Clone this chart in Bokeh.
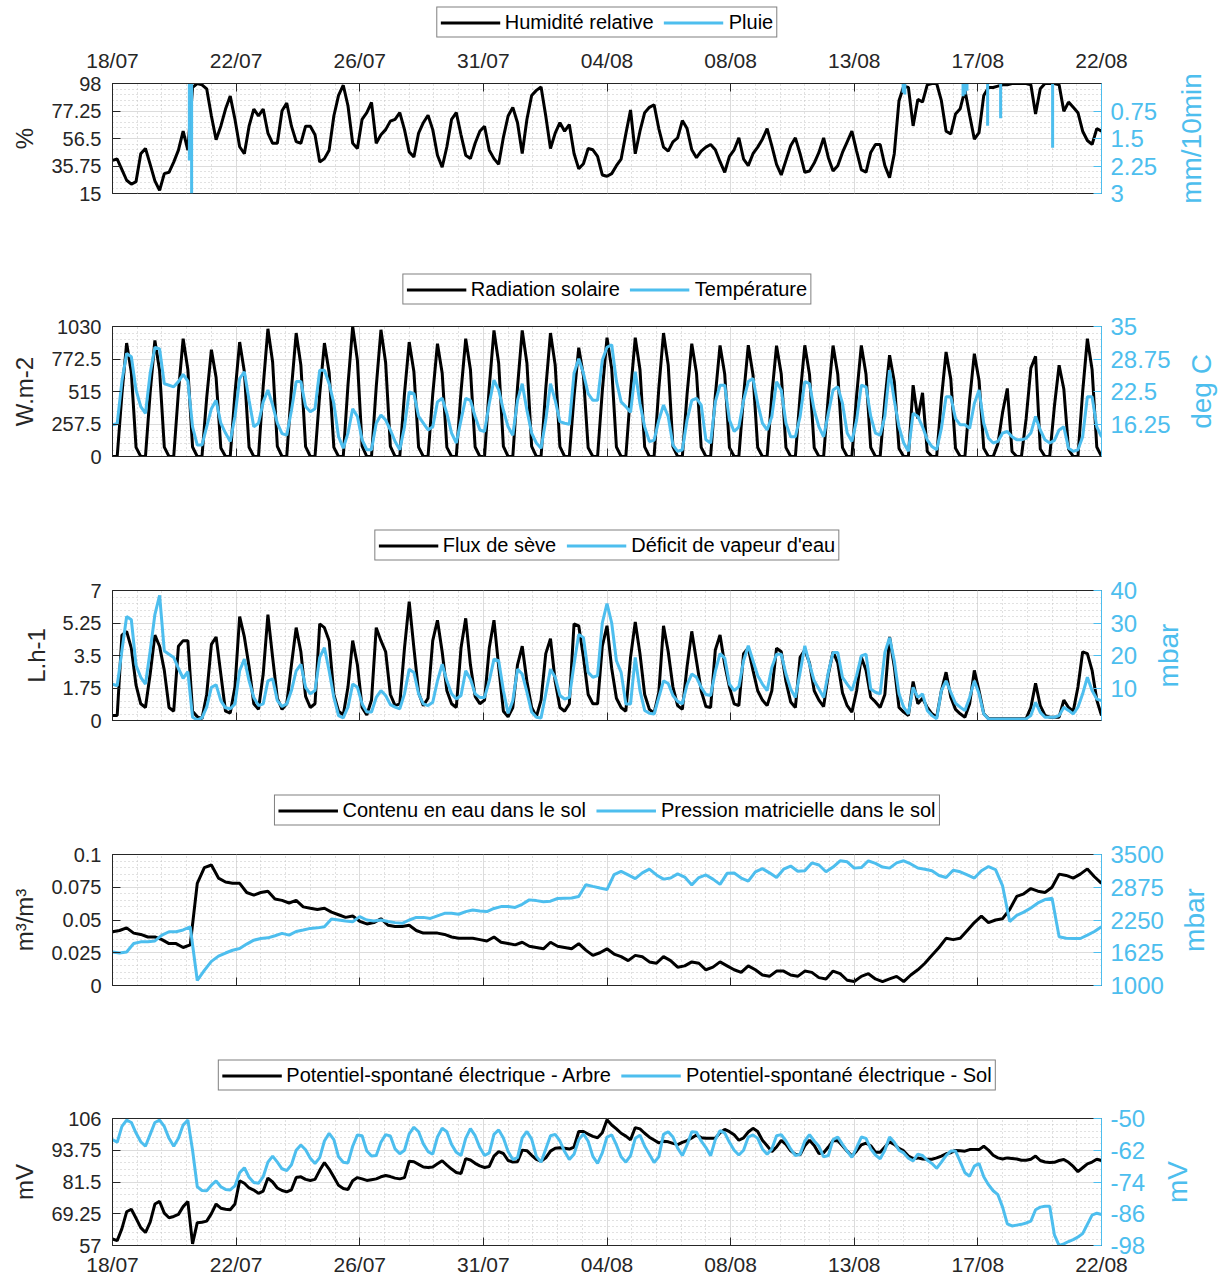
import math
import numpy as np
from bokeh.plotting import figure
from bokeh.models import Range1d, LinearAxis, FixedTicker, Legend, LegendItem
from bokeh.layouts import column, row
from bokeh.embed import file_html
from bokeh.resources import INLINE

FONT = "Liberation Sans"
BLUE = "#4DBEEE"
INK = "#262626"
W = 1227
FL, FR = 112, 1101  # frame left / right (px)

# ---------------- data ----------------
date_labels = ["18/07", "22/07", "26/07", "31/07", "04/08", "08/08", "13/08", "17/08", "22/08"]
n_days = 35

# relative humidity (%), 4-hourly (0,4,8,12,16,20 h) per day from 18/07
rh = [
    [40, 41, 33, 25, 22, 24], [45, 49, 37, 24.5, 17.3, 30], [31, 38.7, 47.7, 62, 47.7, 95],
    [98, 97, 94, 73.5, 55.5, 65.8], [78.7, 88.5, 71, 50.3, 45, 65.8], [78.7, 73.5, 78.7, 60.6, 52.9, 52.9],
    [77.4, 83.3, 65.8, 54.2, 52.9, 65.8], [65.8, 59.3, 38.7, 41.3, 47.7, 73.5], [89, 96.7, 81.2, 52.9, 49, 71],
    [76, 83.8, 52.9, 59.3, 63.2, 69.6], [71, 76, 63.2, 46.4, 42.6, 60.6], [68.4, 74, 63.2, 43.9, 34.8, 50.3],
    [71, 76, 59.3, 43.9, 41.3, 52.9], [62, 65.8, 47.7, 41.3, 37, 57.4], [73.5, 80, 68.4, 45.2, 71, 89],
    [92.8, 95.4, 73.5, 49, 60.6, 68.4], [62, 67, 45.2, 33.6, 37.4, 49], [48, 43, 29, 28, 30, 36],
    [41, 60, 78, 45, 62, 76], [80, 82, 64, 50, 47, 54], [57, 70, 64, 48, 42, 47],
    [50, 52, 48, 39, 31, 43], [48, 57, 41, 36, 45, 50], [56, 64, 51, 37, 29, 40],
    [51, 57, 45, 31, 32, 38], [46, 57, 42, 32, 36, 46], [54, 62, 47, 33, 31, 46],
    [52, 52, 36, 27, 45, 85], [96, 95, 66, 86, 84, 97], [98, 98, 85, 62, 60, 75],
    [79, 93, 74, 56, 61, 89], [95, 95, 96, 97, 97, 98], [98, 98, 98, 97, 75, 94],
    [98, 98, 98, 97, 77, 84], [80, 76, 62, 55, 52, 64],
]
rh_end = 62

# rain events (day since 18/07 00h, mm/10min)
rain_day = [2.72, 2.80, 27.98, 28.04, 30.10, 30.17, 30.24, 30.97, 31.43, 33.27]
rain_mm = [2.1, 3.0, 0.25, 0.30, 0.35, 0.30, 0.20, 1.15, 0.95, 1.75]

# solar radiation (W.m-2), 4-hourly
rad = [
    [0, 0, 494, 899, 665, 72], [0, 0, 506, 920, 681, 74], [0, 0, 513, 933, 690, 75],
    [0, 0, 465, 846, 626, 68], [0, 0, 499, 907, 671, 73], [0, 0, 557, 1012, 749, 81],
    [0, 0, 538, 978, 724, 78], [0, 0, 494, 899, 665, 72], [0, 0, 566, 1030, 762, 82],
    [0, 0, 552, 1004, 743, 80], [0, 0, 499, 907, 671, 73], [0, 0, 492, 894, 662, 72],
    [0, 0, 513, 933, 690, 75], [0, 0, 549, 999, 739, 80], [0, 0, 549, 999, 739, 80],
    [0, 0, 538, 978, 724, 78], [0, 0, 474, 862, 638, 69], [0, 0, 518, 941, 696, 75],
    [0, 0, 510, 941, 690, 76], [0, 0, 538, 978, 724, 78], [0, 0, 492, 894, 662, 72],
    [0, 0, 484, 880, 651, 70], [0, 0, 480, 882, 648, 71], [0, 0, 486, 878, 653, 70],
    [0, 0, 482, 881, 650, 69], [0, 0, 485, 879, 652, 70], [0, 0, 483, 880, 651, 71],
    [0, 0, 441, 802, 593, 64], [0, 0, 565, 300, 505, 40], [0, 0, 455, 828, 613, 66],
    [0, 0, 448, 815, 603, 65], [0, 0, 100, 350, 539, 40], [0, 0, 300, 700, 794, 60],
    [0, 0, 398, 723, 535, 58], [0, 0, 513, 933, 690, 75],
]
rad_end = 0

# air temperature (deg C), 4-hourly
temp = [
    [16.1, 16.3, 24.5, 29.8, 29.2, 22.8], [19.6, 18.3, 26.0, 31.0, 30.7, 24.0], [23.7, 23.4, 24.4, 25.8, 24.5, 15.7],
    [12.2, 12.2, 15.7, 19.2, 20.8, 16.4], [14.5, 12.9, 17.7, 25.0, 26.3, 20.8], [15.7, 16.4, 20.5, 22.8, 19.9, 16.4],
    [14.4, 14.1, 18.9, 24.4, 24.4, 19.6], [18.6, 19.2, 26.6, 26.6, 24.0, 20.2], [13.8, 11.6, 14.5, 19.2, 17.7, 13.2],
    [11.3, 11.3, 16.4, 18.0, 17.0, 15.1], [12.9, 11.3, 15.7, 22.4, 22.1, 17.7], [16.4, 15.1, 15.7, 20.5, 21.2, 18.3],
    [14.5, 12.6, 17.0, 21.2, 20.8, 17.7], [15.1, 14.8, 20.2, 24.7, 22.8, 18.9], [15.7, 14.1, 20.8, 24.0, 18.9, 14.5],
    [12.6, 11.6, 17.0, 24.0, 20.8, 16.7], [16.4, 16.2, 26.0, 28.8, 26.0, 22.1], [20.8, 20.8, 28.5, 31.0, 31.5, 24.5],
    [20.5, 19.6, 18.5, 26.3, 20.2, 15.7], [12.9, 13.1, 17.0, 19.9, 17.7, 12.2], [11.0, 11.3, 17.0, 20.8, 21.2, 19.9],
    [13.2, 12.6, 20.5, 23.7, 23.7, 17.0], [14.8, 15.7, 20.8, 24.4, 25.0, 20.2], [16.4, 15.1, 17.7, 24.4, 22.8, 16.4],
    [13.8, 13.8, 17.7, 24.4, 24.0, 18.9], [15.7, 13.8, 18.3, 22.8, 23.4, 20.2], [14.5, 12.9, 17.0, 23.7, 23.4, 17.7],
    [14.5, 14.1, 17.7, 26.6, 20.8, 15.7], [12.6, 11.0, 18.3, 17.7, 15.7, 13.2], [11.9, 11.3, 15.4, 21.5, 21.5, 17.3],
    [16.1, 16.1, 15.4, 20.2, 22.8, 16.4], [13.5, 12.6, 12.9, 14.5, 14.8, 13.8], [13.2, 13.2, 13.5, 14.5, 17.7, 15.1],
    [13.2, 12.6, 13.1, 15.1, 15.7, 11.6], [11.0, 11.3, 13.8, 21.5, 21.5, 15.7],
]
temp_end = 13.8

# sap flow (L.h-1), 4-hourly
sap = [
    [0.27, 0.27, 4.6, 4.8, 3.9, 1.9], [0.9, 0.7, 2.5, 4.6, 4.0, 2.7], [0.7, 0.5, 4.0, 4.3, 4.3, 0.5],
    [0.2, 0.1, 1.4, 4.1, 4.5, 2.5], [0.5, 0.4, 1.8, 5.6, 4.5, 2.9], [0.9, 0.6, 2.5, 5.7, 3.4, 1.2],
    [0.6, 0.9, 3.0, 5.0, 3.7, 1.3], [0.7, 0.9, 5.2, 5.0, 4.3, 1.4], [0.5, 0.3, 1.8, 4.3, 3.0, 0.7],
    [0.3, 1.1, 5.0, 4.3, 3.7, 1.4], [0.8, 0.9, 3.9, 6.4, 3.9, 1.5], [0.8, 1.2, 4.3, 5.4, 3.7, 1.6],
    [0.9, 0.7, 3.9, 5.5, 3.0, 1.3], [0.9, 1.1, 3.9, 5.4, 2.9, 0.5], [0.2, 0.7, 3.0, 4.0, 2.1, 0.7],
    [0.2, 1.1, 3.6, 4.4, 2.1, 0.7], [0.5, 0.9, 5.2, 5.1, 3.4, 1.4], [0.9, 0.9, 4.0, 5.1, 2.8, 1.2],
    [0.7, 0.5, 3.4, 5.3, 3.6, 1.4], [0.6, 0.4, 1.5, 5.1, 3.7, 1.8], [0.8, 0.6, 2.9, 4.8, 3.2, 1.6],
    [0.75, 0.7, 3.8, 4.6, 3.0, 1.8], [0.9, 0.8, 3.6, 3.9, 2.7, 1.6], [1.1, 0.8, 1.6, 3.9, 3.7, 2.1],
    [1.0, 0.7, 3.4, 3.8, 3.1, 1.6], [1.1, 0.75, 2.5, 3.7, 3.1, 1.5], [0.8, 0.45, 1.6, 3.4, 2.7, 1.25],
    [1.0, 0.7, 1.4, 4.5, 2.9, 0.7], [0.45, 0.27, 2.1, 0.9, 1.2, 0.7], [0.36, 0.18, 1.6, 2.6, 1.25, 0.6],
    [0.36, 0.18, 0.9, 2.7, 1.6, 0.36], [0.1, 0.1, 0.1, 0.1, 0.1, 0.1], [0.1, 0.1, 0.1, 0.7, 2.0, 0.8],
    [0.27, 0.18, 0.18, 0.18, 1.1, 0.7], [0.5, 1.8, 3.7, 3.6, 2.7, 1.1],
]
sap_end = 0.27

# vapour pressure deficit (mbar), 4-hourly
vpd = [
    [11.2, 10.7, 21.5, 32.0, 31.0, 17.0], [13.3, 11.2, 21.4, 32.6, 38.5, 21.4], [20.4, 19.4, 16.0, 13.0, 15.0, 1.0],
    [0.2, 0.8, 4.1, 10.2, 11.0, 6.1], [3.9, 3.6, 5.1, 15.3, 18.9, 12.2], [7.1, 4.6, 5.1, 12.2, 12.8, 6.1],
    [4.3, 5.1, 9.2, 15.3, 17.3, 10.2], [8.2, 9.2, 19.4, 22.4, 15.3, 7.1], [1.5, 0.8, 4.1, 11.2, 10.2, 5.1],
    [2.6, 2.6, 7.1, 9.2, 7.7, 4.9], [4.1, 3.6, 8.2, 15.8, 14.8, 8.2], [5.1, 4.6, 5.6, 12.2, 17.3, 12.2],
    [8.2, 6.6, 7.7, 15.3, 12.8, 8.2], [7.1, 7.1, 12.2, 18.9, 18.4, 9.2], [2.2, 6.1, 15.8, 14.3, 8.7, 2.6],
    [1.0, 0.8, 8.2, 15.8, 13.3, 7.7], [6.6, 7.1, 17.3, 26.5, 25.5, 14.8], [13.3, 13.8, 30.0, 36.0, 30.0, 18.4],
    [14.8, 5.1, 5.1, 19.4, 9.2, 3.1], [2.2, 2.0, 7.1, 12.2, 11.4, 7.7], [5.9, 5.1, 11.0, 14.3, 13.3, 10.2],
    [8.0, 7.7, 15.1, 20.6, 19.2, 11.2], [9.2, 10.4, 18.4, 23.0, 18.4, 13.8], [11.2, 9.2, 16.3, 20.4, 20.4, 14.3],
    [9.7, 7.1, 14.8, 23.0, 17.3, 12.2], [9.7, 7.1, 14.8, 20.9, 20.9, 13.3], [11.2, 9.2, 13.8, 19.9, 20.4, 9.7],
    [8.7, 8.2, 20.9, 25.5, 18.4, 8.2], [4.1, 2.0, 10.2, 7.1, 8.2, 3.1], [1.5, 0.5, 9.2, 12.2, 8.7, 5.3],
    [4.1, 3.1, 7.1, 12.2, 8.2, 2.0], [0.5, 0.5, 0.5, 0.5, 0.5, 0.5], [0.5, 0.5, 0.5, 1.5, 5.6, 2.5],
    [1.0, 1.0, 1.0, 1.5, 4.1, 3.1], [2.0, 4.1, 8.2, 13.3, 9.2, 6.6],
]
vpd_end = 6.1

# soil water content (m3/m3), 6-hourly (0,6,12,18 h)
sw = [
    [0.041, 0.042, 0.044, 0.040], [0.039, 0.037, 0.037, 0.035], [0.032, 0.032, 0.029, 0.031],
    [0.078, 0.090, 0.092, 0.082], [0.079, 0.078, 0.078, 0.071], [0.069, 0.071, 0.072, 0.066],
    [0.065, 0.063, 0.065, 0.060], [0.059, 0.058, 0.059, 0.056], [0.054, 0.052, 0.053, 0.049],
    [0.047, 0.048, 0.051, 0.046], [0.045, 0.045, 0.046, 0.042], [0.040, 0.040, 0.040, 0.039],
    [0.037, 0.036, 0.036, 0.036], [0.035, 0.034, 0.037, 0.033], [0.032, 0.031, 0.033, 0.030],
    [0.029, 0.028, 0.033, 0.030], [0.029, 0.028, 0.032, 0.027], [0.023, 0.025, 0.028, 0.024],
    [0.022, 0.019, 0.023, 0.022], [0.018, 0.017, 0.022, 0.019], [0.014, 0.015, 0.018, 0.017],
    [0.012, 0.014, 0.018, 0.015], [0.012, 0.010, 0.015, 0.012], [0.008, 0.007, 0.011, 0.011],
    [0.008, 0.007, 0.011, 0.010], [0.006, 0.005, 0.011, 0.009], [0.004, 0.003, 0.007, 0.009],
    [0.005, 0.003, 0.005, 0.007], [0.003, 0.008, 0.012, 0.017], [0.023, 0.029, 0.036, 0.035],
    [0.036, 0.042, 0.048, 0.053], [0.048, 0.050, 0.051, 0.058], [0.068, 0.070, 0.074, 0.072],
    [0.071, 0.075, 0.085, 0.084], [0.082, 0.085, 0.089, 0.083],
]
sw_end = 0.078

# soil matric pressure (mbar), 6-hourly
mp = [
    [1641, 1620, 1640, 1801], [1833, 1833, 1850, 1962], [2026, 2026, 2060, 2120],
    [1096, 1288, 1460, 1560], [1620, 1673, 1705, 1790], [1865, 1897, 1910, 1950],
    [1994, 1962, 2030, 2058], [2090, 2100, 2122, 2270], [2250, 2230, 2218, 2314],
    [2250, 2230, 2250, 2220], [2200, 2186, 2250, 2300], [2300, 2280, 2330, 2378],
    [2378, 2360, 2410, 2442], [2420, 2410, 2470, 2506], [2506, 2490, 2550, 2634],
    [2620, 2600, 2610, 2660], [2666, 2670, 2700, 2923], [2891, 2860, 2830, 3115],
    [3179, 3110, 3040, 3150], [3220, 3110, 3030, 3050], [3130, 3070, 2920, 3060],
    [3110, 3030, 2930, 3140], [3147, 3050, 2990, 3170], [3230, 3150, 3060, 3220],
    [3280, 3180, 3190, 3340], [3300, 3170, 3260, 3380], [3360, 3240, 3250, 3380],
    [3330, 3260, 3240, 3340], [3380, 3320, 3243, 3220], [3190, 3100, 3060, 3200],
    [3170, 3110, 3050, 3190], [3270, 3212, 2900, 2220], [2340, 2400, 2480, 2575],
    [2640, 2666, 1929, 1900], [1897, 1897, 1960, 2030],
]
mp_end = 2122

# spontaneous potential, tree (mV), 4-hourly
sp_tree = [
    [59.5, 58.9, 63.5, 70.0, 71.0, 67.5], [63.9, 62.0, 66.0, 73.0, 74.0, 69.5], [67.7, 68.2, 69.0, 72.0, 74.0, 57.6],
    [65.8, 66.0, 66.4, 69.3, 73.0, 71.4], [71.0, 70.8, 73.0, 82.0, 81.0, 79.2], [78.4, 77.1, 78.0, 83.0, 81.5, 79.2],
    [78.2, 77.7, 78.5, 83.2, 83.5, 82.5], [82.1, 82.5, 86.0, 89.0, 86.5, 83.4], [80.2, 79.0, 78.6, 82.0, 83.2, 82.7],
    [82.1, 82.4, 82.7, 83.5, 84.0, 83.6], [83.0, 82.7, 83.2, 89.5, 89.3, 88.3], [87.3, 87.1, 87.3, 88.5, 89.7, 88.0],
    [86.5, 85.2, 84.8, 90.5, 90.0, 88.7], [87.7, 87.1, 87.5, 91.5, 93.2, 92.5], [89.8, 89.2, 89.3, 93.8, 93.6, 91.8],
    [90.2, 89.5, 90.8, 93.4, 94.5, 94.7], [94.5, 94.2, 95.0, 101.0, 101.0, 100.0], [99.1, 98.6, 100.5, 105.5, 103.5, 102.0],
    [100.3, 99.2, 97.8, 102.5, 102.0, 100.3], [98.8, 97.7, 96.6, 97.2, 97.0, 96.4], [95.9, 96.8, 97.5, 98.5, 99.6, 98.6],
    [98.4, 98.4, 98.4, 100.5, 101.8, 100.9], [99.7, 97.6, 98.5, 100.8, 102.2, 101.0], [97.6, 95.5, 93.2, 95.0, 97.6, 96.0],
    [93.5, 92.2, 92.0, 95.5, 97.6, 95.6], [92.5, 92.8, 95.0, 97.5, 97.4, 95.5], [93.4, 91.5, 93.5, 95.8, 96.5, 95.5],
    [93.0, 93.0, 95.0, 97.0, 96.0, 94.5], [93.5, 91.5, 90.5, 90.8, 90.4, 90.3], [90.3, 90.8, 91.5, 92.4, 92.8, 93.7],
    [93.6, 93.4, 94.0, 94.0, 94.0, 95.3], [93.8, 91.8, 90.8, 90.4, 90.8, 90.6], [90.4, 89.9, 89.9, 90.3, 91.5, 89.8],
    [89.2, 89.0, 89.1, 89.8, 90.2, 89.1], [87.5, 85.5, 87.0, 88.5, 89.2, 90.3],
]
sp_tree_end = 89.8

# spontaneous potential, soil (mV), 4-hourly
sp_soil = [
    [-58.0, -59.0, -53.0, -50.6, -51.5, -55.5], [-58.8, -60.5, -56.0, -51.5, -50.6, -53.0], [-57.5, -60.5, -57.5, -52.5, -50.6, -62.0],
    [-75.8, -77.2, -77.3, -75.2, -73.6, -75.8], [-76.8, -77.0, -75.5, -70.5, -68.6, -72.2], [-74.2, -74.5, -72.0, -66.5, -64.2, -66.5],
    [-69.0, -69.7, -67.5, -62.0, -60.0, -61.8], [-65.0, -67.0, -64.8, -58.5, -55.6, -58.0], [-64.5, -66.5, -66.8, -60.5, -56.2, -56.5],
    [-62.3, -64.2, -64.0, -59.0, -56.1, -56.6], [-61.5, -63.3, -62.0, -55.8, -53.3, -55.0], [-59.6, -62.5, -63.5, -57.0, -53.7, -55.0],
    [-59.8, -62.8, -64.0, -57.5, -53.8, -56.5], [-61.0, -64.0, -63.0, -56.0, -54.3, -57.4], [-62.5, -65.5, -64.8, -57.3, -54.9, -57.8],
    [-64.3, -66.5, -61.5, -56.5, -56.0, -58.5], [-62.5, -65.5, -63.5, -58.0, -55.8, -58.6], [-64.3, -67.0, -63.0, -57.0, -56.2, -60.0],
    [-64.5, -66.5, -64.0, -57.5, -56.3, -60.5], [-63.5, -66.6, -64.5, -56.0, -55.0, -57.0], [-61.2, -64.0, -60.0, -55.0, -55.2, -58.5],
    [-61.0, -64.1, -58.0, -54.6, -55.5, -59.0], [-62.0, -63.8, -62.0, -57.0, -56.2, -57.5], [-61.5, -63.5, -61.5, -56.5, -56.1, -58.5],
    [-61.5, -64.0, -63.5, -58.5, -56.1, -58.5], [-60.5, -64.5, -64.0, -58.0, -57.0, -59.8], [-62.3, -64.7, -61.0, -57.0, -57.5, -61.5],
    [-63.8, -65.2, -62.0, -57.0, -59.0, -62.0], [-63.0, -65.0, -66.0, -63.5, -64.0, -65.8], [-67.0, -68.8, -66.5, -64.0, -62.3, -62.3],
    [-66.3, -70.5, -71.8, -68.0, -67.0, -72.0], [-75.0, -77.3, -78.8, -83.5, -89.8, -90.6], [-90.3, -90.0, -89.5, -88.8, -84.5, -83.5],
    [-83.2, -83.2, -94.0, -98.0, -97.4, -96.5], [-95.8, -94.8, -93.5, -90.0, -86.5, -85.8],
]
sp_soil_end = -86.3

# axis ticks
rh_ticks = [15, 35.75, 56.5, 77.25, 98]
rain_ticks = [0.75, 1.5, 2.25, 3]
rad_ticks = [0, 257.5, 515, 772.5, 1030]
temp_ticks = [16.25, 22.5, 28.75, 35]
sap_ticks = [0, 1.75, 3.5, 5.25, 7]
vpd_ticks = [10, 20, 30, 40]
sw_ticks = [0, 0.025, 0.05, 0.075, 0.1]
mp_ticks = [1000, 1625, 2250, 2875, 3500]
spt_ticks = [57, 69.25, 81.5, 93.75, 106]
sps_ticks = [-98, -86, -74, -62, -50]


# ---------------- helpers ----------------
def flat(rows, end):
    return [float(v) for r in rows for v in r] + [float(end)]


def times(rows):
    n = len(rows[0])
    return [i / n for i in range(len(rows) * n + 1)]


def fmt(v):
    return f"{v:g}"


def subdiv(ticks, n=5):
    out = []
    for a, b in zip(ticks[:-1], ticks[1:]):
        for k in range(1, n):
            out.append(float(a + (b - a) * k / n))
    return out


x_major = [float(v) for v in np.linspace(0, n_days, len(date_labels))]


def style_axis(ax, color, tick_size, label_size):
    ax.axis_line_color = color
    ax.axis_line_width = 1
    ax.major_tick_line_color = color
    ax.major_tick_in = 8
    ax.major_tick_out = 0
    ax.minor_tick_line_color = None
    ax.major_label_text_color = color
    ax.major_label_text_font = FONT
    ax.major_label_text_font_size = tick_size
    ax.axis_label_text_color = color
    ax.axis_label_text_font = FONT
    ax.axis_label_text_font_size = label_size
    ax.axis_label_text_font_style = "normal"


def title_strip(width, height, text, cx):
    """Narrow strip right of a panel: its (tick-less) left axis carries the
    right-hand title of the panel, reading bottom-to-top."""
    s = figure(width=width, height=height, title=None, x_range=Range1d(0, 1), y_range=Range1d(0, 1),
               x_axis_type=None, output_backend="svg", toolbar_location=None,
               min_border_left=int(cx + 16), min_border_right=0, min_border_top=0, min_border_bottom=0)
    s.outline_line_color = None
    s.background_fill_color = "white"
    s.border_fill_color = "white"
    s.grid.visible = False
    ax = s.yaxis[0]
    ax.ticker = FixedTicker(ticks=[])
    ax.axis_line_color = None
    ax.major_tick_line_color = None
    ax.minor_tick_line_color = None
    ax.major_label_standoff = 0
    ax.axis_label = text
    ax.axis_label_standoff = 0
    ax.axis_label_text_color = BLUE
    ax.axis_label_text_font = FONT
    ax.axis_label_text_font_size = "28px"
    ax.axis_label_text_font_style = "normal"
    return s


def panel(wm, top, frame_h, bottom, ylim, yticks, ylabel, rlim, rticks, rlabel, title_x, xmode):
    height = top + frame_h + bottom
    p = figure(width=wm, height=height, title=None,
               x_range=Range1d(0, n_days), y_range=Range1d(*ylim),
               output_backend="svg", toolbar_location=None,
               x_axis_location=("above" if xmode == "above" else "below"),
               min_border_left=FL, min_border_right=wm - FR,
               min_border_top=top, min_border_bottom=bottom)
    p.background_fill_color = "white"
    p.border_fill_color = "white"
    p.outline_line_color = INK
    p.outline_line_width = 1

    xt = FixedTicker(ticks=x_major, minor_ticks=subdiv(x_major))
    p.xaxis.ticker = xt
    p.xgrid.ticker = xt
    style_axis(p.xaxis[0], INK, "21px", "22px")
    if xmode == "none":
        p.xaxis.major_label_overrides = {t: "" for t in x_major}
    else:
        p.xaxis.major_label_overrides = {t: lab for t, lab in zip(x_major, date_labels)}
    p.xaxis.major_label_standoff = 8 if xmode == "above" else 3

    yt = FixedTicker(ticks=[float(t) for t in yticks], minor_ticks=subdiv(yticks))
    p.yaxis.ticker = yt
    p.ygrid.ticker = yt
    p.yaxis.major_label_overrides = {float(t): fmt(t) for t in yticks}
    p.yaxis.axis_label = ylabel
    style_axis(p.yaxis[0], INK, "20px", "24px")
    p.yaxis.major_label_standoff = 7
    p.yaxis.axis_label_standoff = 10

    for g in (p.xgrid[0], p.ygrid[0]):
        g.grid_line_color = "#dcdcdc"
        g.grid_line_width = 1
        g.minor_grid_line_color = "#c2c2c2"
        g.minor_grid_line_dash = "1 3"
        g.minor_grid_line_width = 1

    p.extra_y_ranges = {"r": Range1d(*rlim)}
    rax = LinearAxis(y_range_name="r", ticker=FixedTicker(ticks=[float(t) for t in rticks]))
    rax.major_label_overrides = {float(t): fmt(t) for t in rticks}
    style_axis(rax, BLUE, "24px", "28px")
    rax.major_label_standoff = 9
    p.add_layout(rax, "right")

    strip = title_strip(W - wm, height, rlabel, title_x - wm)
    return p, row(p, strip)


LW = 3


def legend_fig(height, labels):
    """A strip that only holds the legend of the panel below it."""
    q = figure(width=W, height=height, title=None, x_range=Range1d(0, 1), y_range=Range1d(0, 1),
               x_axis_type=None, y_axis_type=None, output_backend="svg", toolbar_location=None,
               min_border_left=FL, min_border_right=W - FR, min_border_top=0, min_border_bottom=0)
    q.outline_line_color = None
    q.background_fill_color = "white"
    q.border_fill_color = "white"
    q.grid.visible = False
    # legend keys only: their points lie outside the strip's ranges, so nothing is drawn
    ra = q.line(x=[-2, -1], y=[-2, -1], color="black", line_width=LW)
    rb = q.line(x=[-2, -1], y=[-2, -1], color=BLUE, line_width=LW)
    lg = Legend(items=[LegendItem(label=labels[0], renderers=[ra]),
                       LegendItem(label=labels[1], renderers=[rb])],
                orientation="horizontal", location="center", margin=0,
                padding=3, spacing=10, glyph_width=60, glyph_height=16,
                label_height=16, label_standoff=5,
                label_text_font=FONT, label_text_font_size="20px", label_text_color="black",
                border_line_color="black", border_line_width=1,
                background_fill_color="white", background_fill_alpha=1.0)
    q.add_layout(lg, "center")
    return q


# ---- panel 1: humidity / rain
l1 = legend_fig(44, ["Humidité relative", "Pluie"])
p1, row1 = panel(1160, 39, 110, 79, (15, 98), rh_ticks, "%", (3, 0), rain_ticks, "mm/10min", 1190, "above")
p1.line(times(rh), flat(rh, rh_end), color="black", line_width=LW)
p1.segment(x0=rain_day, y0=[0] * len(rain_day), x1=rain_day, y1=rain_mm,
           y_range_name="r", color=BLUE, line_width=LW)

# ---- panel 2: radiation / temperature
l2 = legend_fig(34, ["Radiation solaire", "Température"])
p2, row2 = panel(1173, 20, 130, 72, (0, 1030), rad_ticks, "W.m-2", (10, 35), temp_ticks, "deg C", 1200, "none")
p2.line(times(rad), flat(rad, rad_end), color="black", line_width=LW)
p2.line(times(temp), flat(temp, temp_end), color=BLUE, line_width=LW, y_range_name="r")

# ---- panel 3: sap flow / VPD
l3 = legend_fig(34, ["Flux de sève", "Déficit de vapeur d'eau"])
p3, row3 = panel(1145, 28, 130, 73, (0, 7), sap_ticks, "L.h-1", (0, 40), vpd_ticks, "mbar", 1167, "none")
p3.line(times(sap), flat(sap, sap_end), color="black", line_width=LW)
p3.line(times(vpd), flat(vpd, vpd_end), color=BLUE, line_width=LW, y_range_name="r")

# ---- panel 4: soil water / matric pressure
l4 = legend_fig(34, ["Contenu en eau dans le sol", "Pression matricielle dans le sol"])
p4, row4 = panel(1166, 27, 131, 73, (0, 0.1), sw_ticks, "m³/m³", (1000, 3500), mp_ticks, "mbar", 1193, "none")
p4.line(times(sw), flat(sw, sw_end), color="black", line_width=LW)
p4.line(times(mp), flat(mp, mp_end), color=BLUE, line_width=LW, y_range_name="r")

# ---- panel 5: spontaneous potentials
l5 = legend_fig(34, ["Potentiel-spontané électrique - Arbre", "Potentiel-spontané électrique - Sol"])
p5, row5 = panel(1153, 26, 131, 29, (57, 106), spt_ticks, "mV", (-98, -50), sps_ticks, "mV", 1176, "below")
p5.line(times(sp_tree), flat(sp_tree, sp_tree_end), color="black", line_width=LW)
p5.line(times(sp_soil), flat(sp_soil, sp_soil_end), color=BLUE, line_width=LW, y_range_name="r")

layout = column(l1, row1, l2, row2, l3, row3, l4, row4, l5, row5)
open("out.html", "w").write(file_html(layout, INLINE))
